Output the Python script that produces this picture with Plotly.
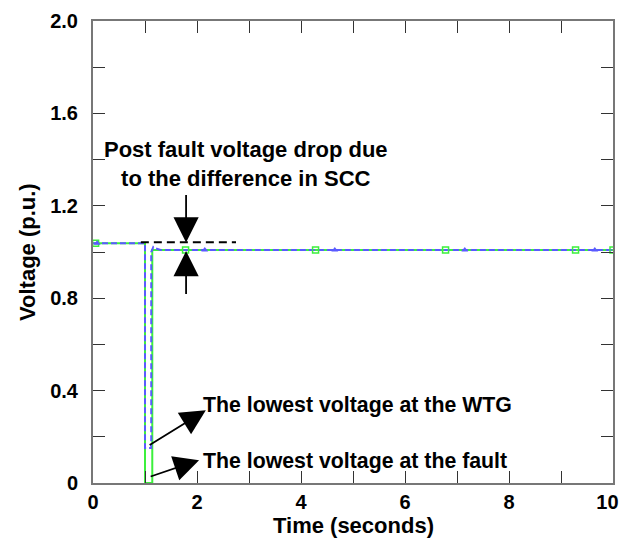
import plotly.graph_objects as go

# Time (s) and voltage (p.u.) traces
t_fault = [0.0, 1.0, 1.0, 1.14, 1.14, 10.0]
v_fault = [1.038, 1.038, 0.0, 0.0, 1.009, 1.009]

t_wtg = [0.0, 1.0, 1.0, 1.12, 1.12, 1.16, 1.2, 1.3, 10.0]
v_wtg = [1.038, 1.038, 0.151, 0.151, 1.0, 1.022, 1.016, 1.009, 1.009]

# marker samples
t_sq = [0.05, 1.78, 4.28, 6.78, 9.28, 10.0]
v_sq = [1.038, 1.009, 1.009, 1.009, 1.009, 1.009]
t_tri = [0.08, 2.15, 4.65, 7.15, 9.65]
v_tri = [1.038, 1.009, 1.009, 1.009, 1.009]

# reference level (pre-fault) dashed line
t_ref = [0.92, 2.75]
v_ref = [1.042, 1.042]

x_ticks = [0, 1, 2, 3, 4, 5, 6, 7, 8, 9, 10]
x_labels = ["0", "", "2", "", "4", "", "6", "", "8", "", "10"]
y_ticks = [0, 0.2, 0.4, 0.6, 0.8, 1.0, 1.2, 1.4, 1.6, 1.8, 2.0]
y_labels = ["0", "", "0.4", "", "0.8", "", "1.2", "", "1.6", "", "2.0"]

BLUE = "#5a5aff"
GREEN = "#3cf03c"
FONT = "Liberation Sans"

fig = go.Figure()
fig.add_trace(go.Scatter(x=t_fault, y=v_fault, mode="lines",
                         line=dict(color=GREEN, width=2)))
fig.add_trace(go.Scatter(x=t_wtg, y=v_wtg, mode="lines",
                         line=dict(color=BLUE, width=2, dash="6px,3px")))
fig.add_trace(go.Scatter(x=t_sq, y=v_sq, mode="markers",
                         marker=dict(symbol="square-open", size=6, color=GREEN,
                                     line=dict(width=1.5, color=GREEN))))
fig.add_trace(go.Scatter(x=t_tri, y=v_tri, mode="markers",
                         marker=dict(symbol="triangle-up", size=6, color=BLUE)))
fig.add_trace(go.Scatter(x=t_ref, y=v_ref, mode="lines",
                         line=dict(color="black", width=2, dash="8px,5px")))

bold = dict(family=FONT, size=22, color="black")
bold_s = dict(family=FONT, size=21.3, color="black")

annots = [
    dict(x=2.95, y=1.382, text="<b>Post fault voltage drop due<br>to the difference in SCC</b>",
         showarrow=False, xanchor="center", yanchor="middle", font=bold),
    dict(x=2.08, y=0.337, text="<b>The lowest voltage at the WTG</b>",
         showarrow=False, xanchor="left", yanchor="middle", font=bold_s),
    dict(x=2.08, y=0.095, text="<b>The lowest voltage at the fault</b>",
         showarrow=False, xanchor="left", yanchor="middle", font=bold_s),
]
for a in annots:
    fig.add_annotation(xref="x", yref="y", **a)

arrows = [
    (1.79, 1.041, 1.79, 1.253),
    (1.79, 1.004, 1.79, 0.812),
    (2.17, 0.315, 1.06, 0.160),
    (2.04, 0.099, 1.08, 0.026),
]
for x, y, ax, ay in arrows:
    fig.add_annotation(x=x, y=y, ax=ax, ay=ay, xref="x", yref="y", axref="x", ayref="y",
                       text="", showarrow=True, arrowhead=2, arrowsize=2.8,
                       arrowwidth=1.8, arrowcolor="black")

# axis titles
title_font = dict(family=FONT, size=22, color="black")
fig.add_annotation(x=0.5, y=0, xref="paper", yref="paper", yshift=-42,
                   xanchor="center", yanchor="middle",
                   text="<b>Time (seconds)</b>", showarrow=False, font=title_font)
fig.add_annotation(x=0, y=0.5, xref="paper", yref="paper", xshift=-66,
                   xanchor="center", yanchor="middle", textangle=-90,
                   text="<b>Voltage (p.u.)</b>", showarrow=False, font=title_font)

axis_common = dict(showgrid=False, zeroline=False, showline=True, mirror="allticks",
                   linecolor="#777777", linewidth=2, ticks="inside", ticklen=12,
                   tickwidth=1.2, tickcolor="#333333", automargin=False,
                   tickfont=dict(family=FONT, size=20, color="black"))

x_text = [f"<b>{s}</b>" for s in x_labels]
x_text[-1] = x_text[-1] + "&nbsp;&nbsp;"

fig.update_xaxes(range=[0, 10], tickvals=x_ticks, ticktext=x_text,
                 tickangle=0, **axis_common)
fig.update_yaxes(range=[0, 2.0], tickvals=y_ticks, ticktext=[f"<b>{s}</b>" for s in y_labels],
                 ticklabelstandoff=9, **axis_common)

fig.update_layout(width=622, height=534, showlegend=False,
                  plot_bgcolor="white", paper_bgcolor="white",
                  margin=dict(l=85, r=17, t=13, b=59, autoexpand=False))

fig.write_html("out.html")
